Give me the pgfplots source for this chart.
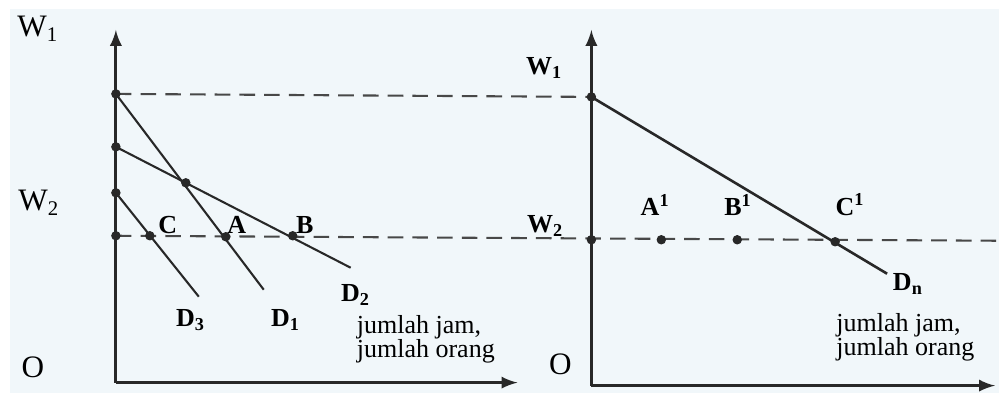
\documentclass[border=0pt]{standalone}
\usepackage{fontspec}
\setmainfont{Liberation Serif}
\usepackage{pgfplots}
\pgfplotsset{compat=1.18}
\definecolor{paper}{RGB}{241,247,250}
\definecolor{ink}{RGB}{40,40,40}

\begin{document}
\begin{tikzpicture}
\begin{axis}[
  scale only axis,
  width=13.5cm, height=5.3055cm,
  xmin=0, xmax=1000, ymin=0, ymax=393,
  y dir=reverse,
  hide axis,
  clip=false,
  every node/.style={text=ink, font=\fontsize{10.5}{12}\selectfont},
]
% white frame, then the tinted paper of the scan
\addplot[fill=white, draw=none] coordinates {(0,0) (1000,0) (1000,393) (0,393)};
\addplot[fill=paper, draw=none] coordinates {(10,9) (1000,9) (1000,393) (10,393)};

% axes
\addplot[ink, line width=1.1pt, -latex] coordinates {(116,383) (116,30)};
\addplot[ink, line width=1.1pt, -latex] coordinates {(116,383) (518,383)};
\addplot[ink, line width=1.1pt, -latex] coordinates {(592,386) (592,30)};
\addplot[ink, line width=1.1pt, -latex] coordinates {(592,386) (996,386)};

% wage levels
\addplot[ink!85, line width=0.8pt, dash pattern=on 6pt off 3.5pt] coordinates {(116,94) (592,97)};
\addplot[ink!85, line width=0.8pt, dash pattern=on 6pt off 3.5pt] coordinates {(116,236) (1000,241)};

% demand curves, left
\addplot[ink, line width=0.8pt] coordinates {(116,94) (264,290)};   % D1
\addplot[ink, line width=0.8pt] coordinates {(116,147) (351,268)};  % D2
\addplot[ink, line width=0.8pt] coordinates {(116,193) (199,297)};  % D3
% market demand, right
\addplot[ink, line width=1pt] coordinates {(592,97) (888,274)};

% points
\addplot[only marks, mark=*, mark size=1.6pt, ink] coordinates {
  (116,94) (116,147) (116,193) (116,236) (186,183)
  (150,236) (226,237) (293,236)
  (592,97) (592,240) (662,240) (738,240) (836,242)
};

% labels, left
\node at (axis cs:38,29) {\fontsize{12}{14}\selectfont W\textsubscript{1}};
\node at (axis cs:39,203) {\fontsize{12}{14}\selectfont W\textsubscript{2}};
\node at (axis cs:33,368) {\fontsize{12}{14}\selectfont O};
\node at (axis cs:168,225) {\bfseries C};
\node at (axis cs:237,225) {\bfseries A};
\node at (axis cs:305,225) {\bfseries B};
\node at (axis cs:191,320) {\bfseries D\textsubscript{3}};
\node at (axis cs:286,320) {\bfseries D\textsubscript{1}};
\node at (axis cs:356,295) {\bfseries D\textsubscript{2}};
\node[anchor=west] at (axis cs:348,328) {jumlah jam,};
\node[anchor=west] at (axis cs:348,352) {jumlah orang};

% labels, right
\node at (axis cs:545,68) {\bfseries W\textsubscript{1}};
\node at (axis cs:546,226) {\bfseries W\textsubscript{2}};
\node at (axis cs:561,365) {\fontsize{12}{14}\selectfont O};
\node at (axis cs:656,205) {\bfseries A\textsuperscript{1}};
\node at (axis cs:739,205) {\bfseries B\textsuperscript{1}};
\node at (axis cs:851,205) {\bfseries C\textsuperscript{1}};
\node at (axis cs:909,284) {\bfseries D\textsubscript{n}};
\node[anchor=west] at (axis cs:828,326) {jumlah jam,};
\node[anchor=west] at (axis cs:828,350) {jumlah orang};
\end{axis}
\end{tikzpicture}
\end{document}
